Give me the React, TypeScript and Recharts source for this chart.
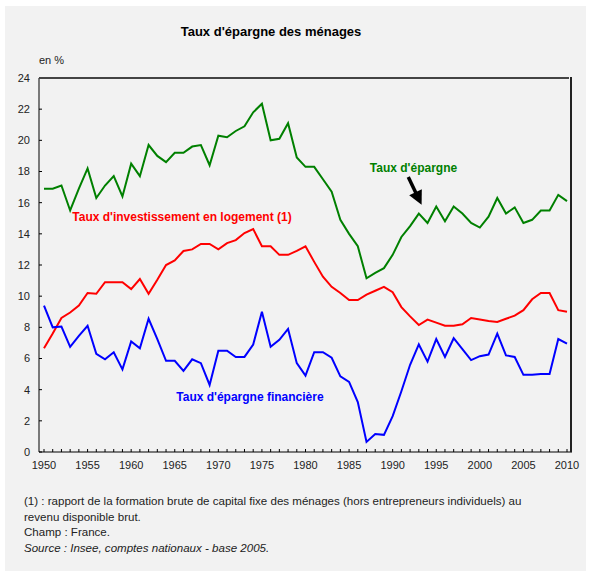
import {
  Line,
  LineChart,
  ReferenceDot,
  ReferenceLine,
  XAxis,
  YAxis,
} from 'recharts'

// années 1950 -> 2010
const years = [
  1950, 1951, 1952, 1953, 1954, 1955, 1956, 1957, 1958, 1959,
  1960, 1961, 1962, 1963, 1964, 1965, 1966, 1967, 1968, 1969,
  1970, 1971, 1972, 1973, 1974, 1975, 1976, 1977, 1978, 1979,
  1980, 1981, 1982, 1983, 1984, 1985, 1986, 1987, 1988, 1989,
  1990, 1991, 1992, 1993, 1994, 1995, 1996, 1997, 1998, 1999,
  2000, 2001, 2002, 2003, 2004, 2005, 2006, 2007, 2008, 2009,
  2010,
]

const tauxEpargne = [
  16.9, 16.9, 17.1, 15.5, 16.9, 18.2, 16.3, 17.1, 17.7, 16.4,
  18.5, 17.7, 19.7, 19.0, 18.6, 19.2, 19.2, 19.6, 19.7, 18.4,
  20.3, 20.2, 20.6, 20.9, 21.8, 22.35, 20.0, 20.1, 21.1, 18.9,
  18.3, 18.3, 17.5, 16.7, 14.9, 14.0, 13.2, 11.15, 11.5, 11.8,
  12.65, 13.8, 14.5, 15.3, 14.7, 15.75, 14.8, 15.75, 15.3, 14.7,
  14.4, 15.1, 16.3, 15.3, 15.7, 14.7, 14.9, 15.5, 15.5, 16.5,
  16.1,
]

const tauxInvestLogement = [
  6.66, 7.6, 8.6, 8.95, 9.4, 10.2, 10.15, 10.9, 10.9, 10.9,
  10.45, 11.1, 10.15, 11.05, 12.0, 12.3, 12.9, 13.0, 13.35, 13.35,
  13.0, 13.4, 13.6, 14.05, 14.3, 13.2, 13.2, 12.65, 12.65, 12.9,
  13.2, 12.2, 11.25, 10.6, 10.2, 9.75, 9.75, 10.1, 10.35, 10.6,
  10.25, 9.3, 8.7, 8.15, 8.5, 8.3, 8.1, 8.1, 8.2, 8.6,
  8.5, 8.4, 8.35, 8.55, 8.75, 9.1, 9.8, 10.2, 10.2, 9.1,
  9.0,
]

const tauxEpargneFin = [
  9.4, 8.0, 8.05, 6.75, 7.45, 8.1, 6.3, 5.95, 6.4, 5.3,
  7.1, 6.65, 8.55, 7.25, 5.85, 5.85, 5.2, 5.95, 5.7, 4.3,
  6.5, 6.5, 6.1, 6.1, 6.9, 9.0, 6.75, 7.2, 7.9, 5.7,
  4.9, 6.4, 6.4, 6.05, 4.85, 4.5, 3.2, 0.65, 1.15, 1.1,
  2.3, 3.9, 5.6, 6.9, 5.8, 7.25, 6.1, 7.3, 6.6, 5.9,
  6.15, 6.25, 7.6, 6.2, 6.1, 4.95, 4.95, 5.0, 5.0, 7.25,
  6.95,
]

const yTicks = [0, 2, 4, 6, 8, 10, 12, 14, 16, 18, 20, 22, 24]

const data = years.map((year, i) => ({
  year,
  epargne: tauxEpargne[i],
  logement: tauxInvestLogement[i],
  financiere: tauxEpargneFin[i],
}))

const FONT = '"Liberation Sans", Arial, sans-serif'
const GREEN = '#008000'
const RED = '#ff0000'
const BLUE = '#0000ff'

function YTick({ x, y, payload }: any) {
  return (
    <g>
      <line x1={x + 9} y1={y} x2={x + 12} y2={y} stroke="#000" />
      <text x={x} y={y} dy="0.35em" textAnchor="end" fontSize={11} fill="#222">
        {payload.value}
      </text>
    </g>
  )
}

function XTick({ x, y, payload }: any) {
  return (
    <g>
      <line x1={x} y1={y - 9} x2={x} y2={y - 12} stroke="#000" />
      {payload.value % 5 === 0 && (
        <text x={x} y={y} dy="0.75em" textAnchor="middle" fontSize={11} fill="#222">
          {payload.value}
        </text>
      )}
    </g>
  )
}

const labelStyle = { fontSize: 12, fontWeight: 'bold' as const }

export default function App() {
  return (
    <div
      style={{
        position: 'absolute',
        left: 0,
        top: 0,
        width: 590,
        height: 574,
        background: '#fff',
        fontFamily: FONT,
        overflow: 'hidden',
      }}
    >
      <div
        style={{
          position: 'absolute',
          left: 5,
          top: 6,
          width: 581,
          height: 565,
          background: '#f2f2f2',
        }}
      />

      <div style={{ position: 'absolute', left: 0, top: 0 }}>
        <LineChart
          width={590}
          height={574}
          data={data}
          margin={{ top: 78, right: 18, bottom: 92, left: 9 }}
        >
          <defs>
            <marker
              id="fleche"
              viewBox="0 0 10 10"
              refX={4}
              refY={5}
              markerWidth={15}
              markerHeight={14}
              markerUnits="userSpaceOnUse"
              orient="auto"
            >
              <path d="M0,0 L10,5 L0,10 z" fill="#000" />
            </marker>
          </defs>

          <XAxis
            dataKey="year"
            type="number"
            domain={[1950, 2010]}
            ticks={years}
            interval={0}
            padding={{ left: 5, right: 5 }}
            height={30}
            tickSize={0}
            tickMargin={9}
            tickLine={false}
            axisLine={{ stroke: '#000' }}
            tick={<XTick />}
          />
          <YAxis
            domain={[0, 24]}
            ticks={yTicks}
            interval={0}
            width={30}
            tickSize={0}
            tickMargin={9}
            tickLine={false}
            axisLine={{ stroke: '#000' }}
            tick={<YTick />}
          />

          <Line
            dataKey="epargne"
            type="linear"
            stroke={GREEN}
            strokeWidth={2}
            dot={false}
            isAnimationActive={false}
          />
          <Line
            dataKey="logement"
            type="linear"
            stroke={RED}
            strokeWidth={2}
            dot={false}
            isAnimationActive={false}
          />
          <Line
            dataKey="financiere"
            type="linear"
            stroke={BLUE}
            strokeWidth={2}
            dot={false}
            isAnimationActive={false}
          />

          <ReferenceLine
            segment={[
              { x: 1991.79, y: 17.64 },
              { x: 1992.9, y: 16.35 },
            ]}
            stroke="#000"
            strokeWidth={3.5}
            markerEnd="url(#fleche)"
          />

          <ReferenceDot
            x={1992.39}
            y={18.26}
            r={0}
            fill="none"
            stroke="none"
            label={{ value: "Taux d'épargne", position: 'center', fill: GREEN, ...labelStyle }}
          />
          <ReferenceDot
            x={1965.83}
            y={15.11}
            r={0}
            fill="none"
            stroke="none"
            label={{
              value: "Taux d'investissement en logement (1)",
              position: 'center',
              fill: RED,
              ...labelStyle,
            }}
          />
          <ReferenceDot
            x={1973.63}
            y={3.55}
            r={0}
            fill="none"
            stroke="none"
            label={{
              value: "Taux d'épargne financière",
              position: 'center',
              fill: BLUE,
              ...labelStyle,
            }}
          />
        </LineChart>
      </div>

      {/* cadre du graphique : haut et droite */}
      <div
        style={{
          position: 'absolute',
          left: 39,
          top: 77,
          width: 530,
          height: 2,
          background: '#444',
        }}
      />
      <div
        style={{
          position: 'absolute',
          left: 570,
          top: 77,
          width: 2,
          height: 375,
          background: '#222',
        }}
      />

      <div
        style={{
          position: 'absolute',
          left: 171,
          top: 24,
          width: 200,
          textAlign: 'center',
          fontSize: 13,
          fontWeight: 'bold',
          color: '#000',
          whiteSpace: 'nowrap',
          lineHeight: '16px',
        }}
      >
        Taux d'épargne des ménages
      </div>
      <div
        style={{
          position: 'absolute',
          left: 39,
          top: 53,
          fontSize: 11,
          color: '#222',
          lineHeight: '14px',
        }}
      >
        en %
      </div>

      <div
        style={{
          position: 'absolute',
          left: 24,
          top: 494,
          fontSize: 11.55,
          color: '#222',
          lineHeight: '15.7px',
          whiteSpace: 'nowrap',
        }}
      >
        <div>
          (1) : rapport de la formation brute de capital fixe des ménages (hors entrepreneurs individuels) au
        </div>
        <div>revenu disponible brut.</div>
        <div>Champ : France.</div>
        <div style={{ fontStyle: 'italic' }}>
          Source : Insee, comptes nationaux - base 2005.
        </div>
      </div>
    </div>
  )
}
